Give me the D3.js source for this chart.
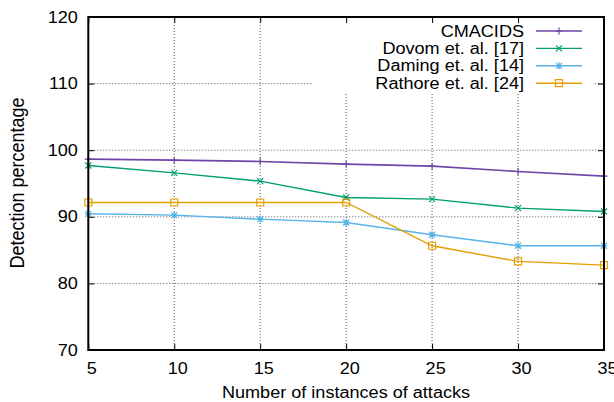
<!DOCTYPE html>
<html lang="en">
<head>
    <meta charset="UTF-8">
    <title>Detection percentage</title>
    <script src="https://d3js.org/d3.v7.min.js"></script>
    <style>
        body { margin: 0; background: #fff; }
        text { font-family: "Liberation Sans", Arial, sans-serif; fill: #000; }
    </style>
</head>
<body>
    <script>
        // data
        var instances = [5, 10, 15, 20, 25, 30, 35];
        var seriesNames = ['CMACIDS', 'Dovom et. al. [17]', 'Daming et. al. [14]', 'Rathore et. al. [24]'];
        var cmacids = [98.65, 98.5, 98.3, 97.9, 97.6, 96.8, 96.1];
        var dovom   = [97.7, 96.6, 95.35, 92.9, 92.65, 91.3, 90.8];
        var daming  = [90.45, 90.25, 89.65, 89.15, 87.3, 85.65, 85.65];
        var rathore = [92.15, 92.15, 92.15, 92.15, 85.65, 83.3, 82.75];
        var xTicks = [5, 10, 15, 20, 25, 30, 35];
        var yTicks = [70, 80, 90, 100, 110, 120];

        var colors = ['#6f45a8', '#009e73', '#56b4e9', '#e69f00'];
        var markers = ['plus', 'cross', 'star', 'square'];
        var allValues = [cmacids, dovom, daming, rathore];

        var w = 614, h = 402;
        var plotLeft = 88.3, plotRight = 604, plotTop = 17, plotBottom = 350;
        var stretch = 1.13; // the picture is a bit wider than tall

        var xScale = d3.scaleLinear().domain([5, 35]).range([plotLeft, plotRight]);
        var yScale = d3.scaleLinear().domain([70, 120]).range([plotBottom, plotTop]);

        var svg = d3.select('body').append('svg')
            .attr('width', w)
            .attr('height', h);

        // grid
        var grid = svg.append('g')
            .attr('stroke', '#555')
            .attr('stroke-width', 1)
            .attr('stroke-dasharray', '1,2');
        grid.selectAll('.vgrid')
            .data(xTicks.slice(1, -1))
            .enter().append('line')
            .attr('x1', function(d) { return xScale(d); })
            .attr('x2', function(d) { return xScale(d); })
            .attr('y1', plotBottom)
            .attr('y2', plotTop);
        grid.selectAll('.hgrid')
            .data(yTicks.slice(1, -1))
            .enter().append('line')
            .attr('x1', plotLeft)
            .attr('x2', plotRight)
            .attr('y1', function(d) { return yScale(d); })
            .attr('y2', function(d) { return yScale(d); });

        // opaque key background
        svg.append('rect')
            .attr('x', 313)
            .attr('y', plotTop)
            .attr('width', 593 - 313)
            .attr('height', 93 - plotTop)
            .attr('fill', '#fff');

        // axes with inward ticks
        function stretchText(sel) {
            sel.selectAll('text')
                .attr('transform', 'scale(' + stretch + ',1)')
                .style('font-size', '16px');
        }

        var xAxis = d3.axisBottom(xScale).tickValues(xTicks).tickSize(-6).tickPadding(12.5)
            .tickFormat(d3.format('d'));
        var gx = svg.append('g')
            .attr('transform', 'translate(0,' + plotBottom + ')')
            .call(xAxis);
        gx.selectAll('text').attr('dx', 2.7);
        stretchText(gx);

        svg.append('g')
            .attr('transform', 'translate(0,' + plotTop + ')')
            .call(d3.axisTop(xScale).tickValues(xTicks).tickSize(-6).tickFormat(''));

        var yAxis = d3.axisLeft(yScale).tickValues(yTicks).tickSize(-6).tickPadding(9.3);
        var gy = svg.append('g')
            .attr('transform', 'translate(' + plotLeft + ',0)')
            .call(yAxis);
        stretchText(gy);

        svg.append('g')
            .attr('transform', 'translate(' + plotRight + ',0)')
            .call(d3.axisRight(yScale).tickValues(yTicks).tickSize(-6).tickFormat(''));

        svg.selectAll('.domain').remove();
        svg.selectAll('.tick line').attr('stroke', '#000').attr('stroke-width', 1);

        // series
        var line = d3.line()
            .x(function(d, i) { return xScale(instances[i]); })
            .y(function(d) { return yScale(d); });

        function drawMarker(g, type, cx, cy, color) {
            var s = 3.5;
            var p = d3.path();
            if (type === 'plus' || type === 'star') {
                p.moveTo(cx - s, cy); p.lineTo(cx + s, cy);
                p.moveTo(cx, cy - s); p.lineTo(cx, cy + s);
            }
            if (type === 'cross' || type === 'star') {
                var t = 3;
                p.moveTo(cx - t, cy - t); p.lineTo(cx + t, cy + t);
                p.moveTo(cx - t, cy + t); p.lineTo(cx + t, cy - t);
            }
            if (type === 'square') {
                p.rect(cx - s, cy - s, 2 * s, 2 * s);
            }
            g.append('path')
                .attr('d', p.toString())
                .attr('fill', 'none')
                .attr('stroke', color)
                .attr('stroke-width', 1.2);
        }

        allValues.forEach(function(vals, k) {
            var g = svg.append('g');
            g.append('path')
                .datum(vals)
                .attr('d', line)
                .attr('fill', 'none')
                .attr('stroke', colors[k])
                .attr('stroke-width', k === 0 ? 1.7 : 1.4);
            vals.forEach(function(v, i) {
                drawMarker(g, markers[k], xScale(instances[i]), yScale(v), colors[k]);
            });
        });

        // border
        svg.append('rect')
            .attr('x', plotLeft)
            .attr('y', plotTop)
            .attr('width', plotRight - plotLeft)
            .attr('height', plotBottom - plotTop)
            .attr('fill', 'none')
            .attr('stroke', '#000')
            .attr('stroke-width', 2);

        // key
        var keyRows = [31, 48.4, 65.8, 83.2];
        seriesNames.forEach(function(name, k) {
            var ky = keyRows[k];
            svg.append('text')
                .attr('transform', 'translate(524,' + ky + ') scale(' + stretch + ',1)')
                .attr('text-anchor', 'end')
                .attr('dy', '0.35em')
                .style('font-size', '16px')
                .text(name);
            svg.append('line')
                .attr('x1', 536).attr('x2', 582)
                .attr('y1', ky).attr('y2', ky)
                .attr('stroke', colors[k])
                .attr('stroke-width', k === 0 ? 1.7 : 1.4);
            drawMarker(svg, markers[k], 559, ky, colors[k]);
        });

        // axis titles
        svg.append('text')
            .attr('transform', 'translate(346,398) scale(' + stretch + ',1)')
            .attr('text-anchor', 'middle')
            .style('font-size', '16px')
            .text('Number of instances of attacks');

        svg.append('text')
            .attr('transform', 'translate(24,183) scale(' + stretch + ',1) rotate(-90)')
            .attr('text-anchor', 'middle')
            .style('font-size', '18px')
            .text('Detection percentage');
    </script>
</body>
</html>
